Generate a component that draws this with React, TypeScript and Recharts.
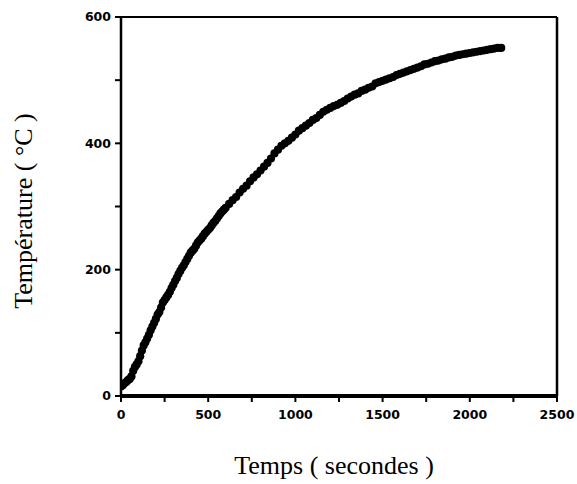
import React from "react";
import {
  ScatterChart,
  Scatter,
  XAxis,
  YAxis,
  ReferenceLine,
  Label,
} from "recharts";

const timeSeconds = [
  0, 10, 20, 30, 40, 50, 60, 70, 80, 90, 100, 110, 120, 130, 140, 150, 160,
  170, 180, 190, 200, 210, 220, 230, 240, 250, 260, 270, 280, 290, 300, 310,
  320, 330, 340, 350, 360, 370, 380, 390, 400, 410, 420, 430, 440, 450, 460,
  470, 480, 490, 500, 510, 520, 530, 540, 550, 560, 570, 580, 590, 600,
  620, 640, 660, 680, 700, 720, 740, 760, 780, 800, 820, 840, 860, 880, 900,
  920, 940, 960, 980, 1000, 1020, 1040, 1060, 1080, 1100, 1120, 1140, 1160,
  1180, 1200, 1220, 1240, 1260, 1280, 1300, 1320, 1340, 1360, 1380, 1400,
  1420, 1440, 1460, 1480, 1500, 1520, 1540, 1560, 1580, 1600, 1620, 1640,
  1660, 1680, 1700, 1720, 1740, 1760, 1780, 1800, 1820, 1840, 1860, 1880,
  1900, 1920, 1940, 1960, 1980, 2000, 2020, 2040, 2060, 2080, 2100, 2120,
  2140, 2160, 2180,
];

const temperature = [
  15, 17, 20, 22, 25, 27, 31, 40, 46, 50, 55, 63, 72, 80, 85, 91, 97, 104,
  110, 116, 122, 129, 133, 140, 148, 152, 156, 160, 165, 171, 176, 182, 187,
  193, 198, 203, 207, 212, 217, 222, 227, 230, 233, 238, 243, 246, 249, 253,
  257, 260, 263, 266, 270, 274, 277, 281, 285, 289, 292, 295, 298,
  304, 310, 315, 322, 328, 333, 340, 346, 351, 357, 363, 369, 376, 384, 390,
  396, 400, 404, 409, 414, 420, 424, 428, 432, 437, 440, 445, 450, 453, 456,
  459, 461, 464, 467, 471, 474, 477, 479, 483, 485, 488, 490, 495, 497, 499,
  501, 503, 505, 508, 510, 512, 514, 516, 518, 520, 522, 525, 526, 528, 530,
  531, 533, 534, 536, 537, 539, 540, 541, 542, 543, 544, 545, 546, 547, 548,
  549, 550, 551, 551,
];

const xTicks = [0, 250, 500, 750, 1000, 1250, 1500, 1750, 2000, 2250, 2500];
const xTickLabels = ["0", "", "500", "", "1000", "", "1500", "", "2000", "", "2500"];
const yTicks = [0, 100, 200, 300, 400, 500, 600];
const yTickLabels = ["0", "", "200", "", "400", "", "600"];

const xTitle = "Temps ( secondes )";
const yTitle = "Température ( °C )";

const data = timeSeconds.map((t, i) => ({ t, T: temperature[i] }));

const tickStyle = {
  fontFamily: "DejaVu Sans",
  fontSize: 12.5,
  fontWeight: "bold" as const,
  fill: "#000",
};

const Dot = (props: any) => (
  <circle cx={props.cx} cy={props.cy} r={4.1} fill="#000" />
);

export default function App() {
  return (
    <div style={{ position: "absolute", left: 0, top: 0, background: "#fff" }}>
      <ScatterChart
        width={577}
        height={484}
        margin={{ top: 17, right: 20, left: 0, bottom: 0 }}
      >
        <XAxis
          type="number"
          dataKey="t"
          domain={[0, 2500]}
          ticks={xTicks}
          interval={0}
          tickFormatter={(v: number) => xTickLabels[xTicks.indexOf(v)] ?? ""}
          height={88}
          tick={tickStyle}
          tickSize={6}
          tickMargin={8}
          axisLine={{ stroke: "#000", strokeWidth: 4 }}
          tickLine={{ stroke: "#000", strokeWidth: 2 }}
          allowDataOverflow
        >
          <Label
            content={() => (
              <text
                x={334}
                y={474}
                textAnchor="middle"
                fontFamily="Liberation Serif"
                fontSize={26}
                fill="#000"
              >
                {xTitle}
              </text>
            )}
          />
        </XAxis>
        <YAxis
          type="number"
          dataKey="T"
          domain={[0, 600]}
          ticks={yTicks}
          interval={0}
          tickFormatter={(v: number) => yTickLabels[yTicks.indexOf(v)] ?? ""}
          width={121}
          tick={tickStyle}
          tickSize={6}
          tickMargin={4}
          axisLine={{ stroke: "#000", strokeWidth: 2.5 }}
          tickLine={{ stroke: "#000", strokeWidth: 2 }}
          allowDataOverflow
        >
          <Label
            content={() => (
              <text
                x={32}
                y={211}
                transform="rotate(-90 32 211)"
                textAnchor="middle"
                fontFamily="Liberation Serif"
                fontSize={26}
                fill="#000"
              >
                {yTitle}
              </text>
            )}
          />
        </YAxis>
        <ReferenceLine y={600} stroke="#000" strokeWidth={2} />
        <ReferenceLine x={2500} stroke="#000" strokeWidth={2.5} />
        <Scatter data={data} shape={Dot} isAnimationActive={false} />
      </ScatterChart>
    </div>
  );
}
